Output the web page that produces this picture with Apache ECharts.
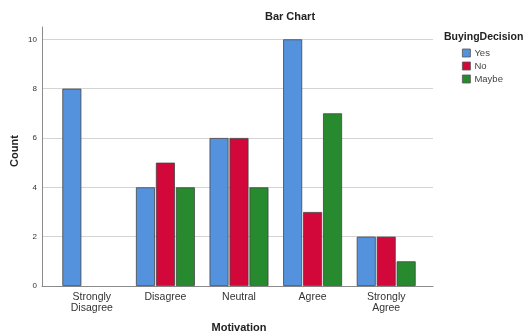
<!DOCTYPE html>
<html>
<head>
<meta charset="utf-8">
<script src="https://cdn.jsdelivr.net/npm/echarts@6/dist/echarts.min.js"></script>
<style>
  html, body { margin: 0; padding: 0; background: #fff; }
  #chart { width: 523px; height: 336px; }
</style>
</head>
<body>
<div id="chart"></div>
<script>
// Motivation levels and counts per buying decision
const categories = ['Strongly\nDisagree', 'Disagree', 'Neutral', 'Agree', 'Strongly\nAgree'];
const seriesNames = ['Yes', 'No', 'Maybe'];
const yesCounts = [8, 4, 6, 10, 2];
const noCounts = [0, 5, 6, 3, 2];
const maybeCounts = [0, 4, 4, 7, 1];
const seriesValues = [yesCounts, noCounts, maybeCounts];
const yTicks = [0, 2, 4, 6, 8, 10];

const colors = ['#5592DE', '#D2073A', '#288A2E'];
const font = 'Arial, "Liberation Sans", sans-serif';

const chart = echarts.init(document.getElementById('chart'), null, { renderer: 'canvas' });

const yMax = 10.5;

chart.setOption({
  animation: false,
  backgroundColor: '#ffffff',
  title: [
    {
      text: 'Bar Chart',
      left: 285, top: 6, textAlign: 'center',
      textStyle: { fontFamily: font, fontSize: 11, fontWeight: 'bold', color: '#222' }
    },
    {
      text: 'BuyingDecision',
      left: 439, top: 27,
      textStyle: { fontFamily: font, fontSize: 10.5, fontWeight: 'bold', color: '#222' }
    }
  ],
  graphic: [
    {
      type: 'text',
      x: 15, y: 151, rotation: Math.PI / 2,
      style: {
        text: 'Count', fontFamily: font, fontSize: 11, fontWeight: 'bold', fill: '#222',
        align: 'center', verticalAlign: 'middle'
      }
    }
  ],
  legend: {
    data: seriesNames,
    orient: 'vertical',
    left: 457, top: 43,
    itemWidth: 8, itemHeight: 8, itemGap: 3,
    icon: 'rect',
    textStyle: { fontFamily: font, fontSize: 9.5, color: '#444', padding: [0, 0, 0, -1] },
    itemStyle: { borderColor: '#555', borderWidth: 0.8 }
  },
  grid: [
    // frame grid: axis lines and gridlines
    { left: 42, right: 90, top: 27, bottom: 50, outerBoundsMode: 'none', containLabel: false },
    // bar grid: category bands
    { left: 55, right: 100, top: 27, bottom: 50, outerBoundsMode: 'none', containLabel: false }
  ],
  xAxis: [
    {
      gridIndex: 0, type: 'category', data: [''],
      axisLine: { lineStyle: { color: '#8a8a8a', width: 1 } },
      axisTick: { show: false }, axisLabel: { show: false }
    },
    {
      gridIndex: 1, type: 'category', data: categories,
      axisLine: { show: false }, axisTick: { show: false },
      axisLabel: { fontFamily: font, fontSize: 10.5, color: '#333', margin: 6, lineHeight: 11 },
      name: 'Motivation', nameLocation: 'middle', nameGap: 36,
      nameTextStyle: { fontFamily: font, fontSize: 11, fontWeight: 'bold', color: '#222' }
    }
  ],
  yAxis: [
    {
      gridIndex: 0, type: 'value', min: 0, max: yMax, interval: 2,
      axisLine: { show: true, lineStyle: { color: '#8a8a8a', width: 1 } },
      axisTick: { show: false },
      axisLabel: {
        fontFamily: font, fontSize: 8, color: '#333', margin: 5, showMaxLabel: false,
        formatter: v => (yTicks.includes(v) ? String(v) : '')
      },
      splitLine: { show: true, showMaxLine: false, lineStyle: { color: '#d4d4d4', width: 1 } }
    },
    {
      gridIndex: 1, type: 'value', min: 0, max: yMax, interval: 2,
      axisLine: { show: false }, axisTick: { show: false },
      axisLabel: { show: false }, splitLine: { show: false }
    }
  ],
  series: seriesNames.map((name, i) => ({
    name,
    type: 'bar',
    xAxisIndex: 1, yAxisIndex: 1,
    // zero counts get no outline so no sliver is drawn
    data: seriesValues[i].map(v => (v === 0 ? { value: v, itemStyle: { borderWidth: 0 } } : v)),
    barWidth: 19,
    barGap: '5%',
    itemStyle: { color: colors[i], borderColor: '#444', borderWidth: 0.8 }
  }))
});
</script>
</body>
</html>
